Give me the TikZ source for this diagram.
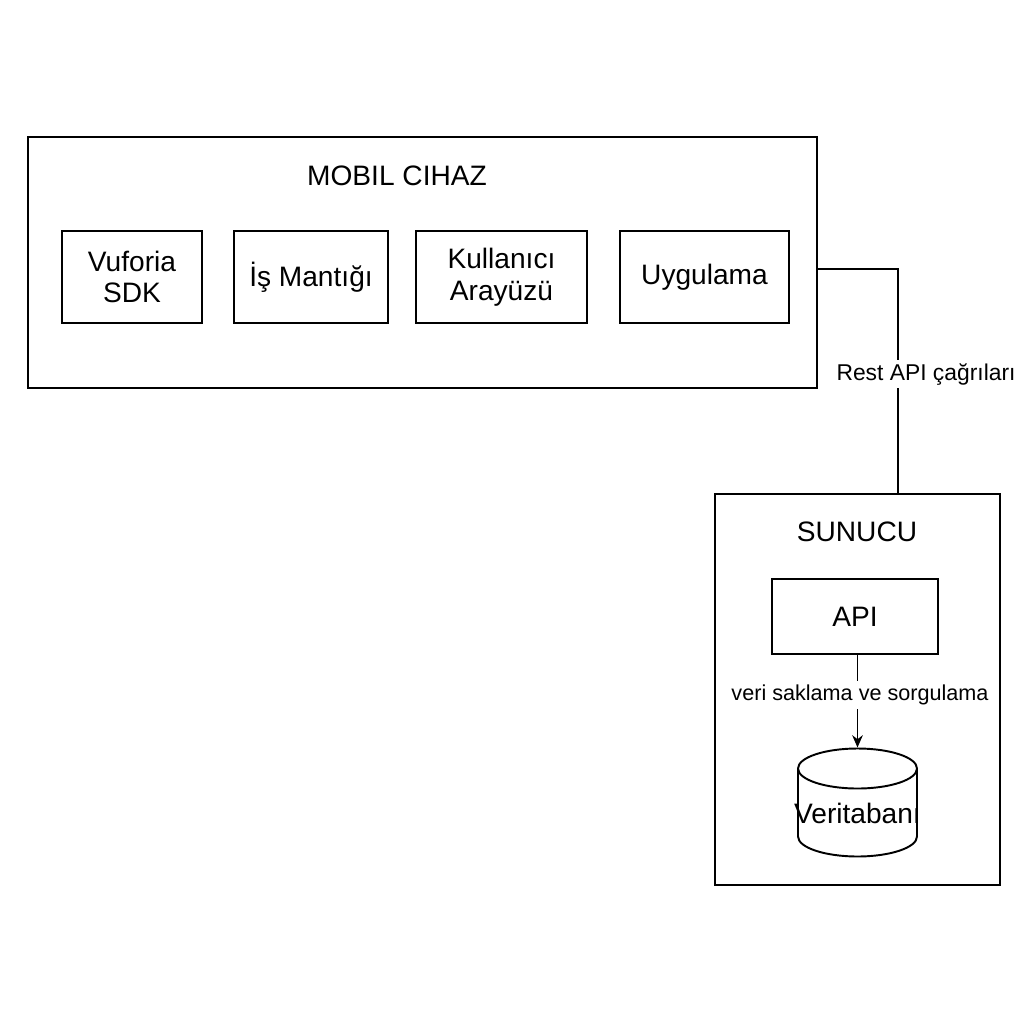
\documentclass[tikz,border=0pt]{standalone}
\usepackage{fontspec}
\setmainfont{Liberation Sans}
\usetikzlibrary{positioning,arrows.meta,shapes.geometric}

\begin{document}
\begin{tikzpicture}[x=0.02cm, y=-0.02cm, >={Stealth[length=7pt,width=6pt]}, line width=1.1pt,
    box/.style={draw, inner sep=2pt, align=center, minimum height=1.84cm, font=\fontsize{16}{18}\selectfont},
    lbl/.style={fill=white, inner sep=2pt, font=\fontsize{13}{15}\selectfont}]
    \useasboundingbox (0,0) rectangle (1024,1024);
    % mobile device
    \node[draw, minimum width=15.78cm, minimum height=5.02cm] (mobil) at (422.5,262.5) {};
    \node[font=\fontsize{16}{18}\selectfont] (mobiltitle) at (397,176) {MOBIL CIHAZ};
    \node[box, minimum width=2.8cm] (vuforia) at (132,277) {Vuforia\\SDK};
    \node[box, minimum width=3.08cm] (mantik) at (311,277) {İş Mantığı};
    \node[box, minimum width=3.42cm] (arayuz) at (501.5,277) {Kullanıcı\\Arayüzü};
    \node[box, minimum width=3.38cm] (uygulama) at (704.5,277) {Uygulama};
    % server
    \node[draw, minimum width=5.7cm, minimum height=7.82cm] (sunucu) at (857.5,689.5) {};
    \node[font=\fontsize{16}{18}\selectfont] (sunucutitle) at (857,532) {SUNUCU};
    \node[draw, minimum width=3.32cm, minimum height=1.5cm, font=\fontsize{16}{18}\selectfont] (api) at (855,616.5) {API};
    \node[draw, cylinder, shape border rotate=90, aspect=0.4, anchor=shape center, minimum width=2.38cm, minimum height=2.16cm, inner sep=0pt, font=\fontsize{16}{18}\selectfont] (db) at (857.5,802.5) {\makebox[2cm]{Veritabanı}};
    % connectors
    \coordinate (bend) at (898,269);
    \draw (mobil.east |- bend) -- (bend) -- (bend |- sunucu.north);
    \node[lbl] (rest) at (926,374) {Rest API çağrıları};
    \draw[->] (api.south -| db.north) -- (db.north);
    \node[lbl, font=\fontsize{12.3}{14}\selectfont] (veri) at (860,695) {veri saklama ve sorgulama};
\end{tikzpicture}
\end{document}
